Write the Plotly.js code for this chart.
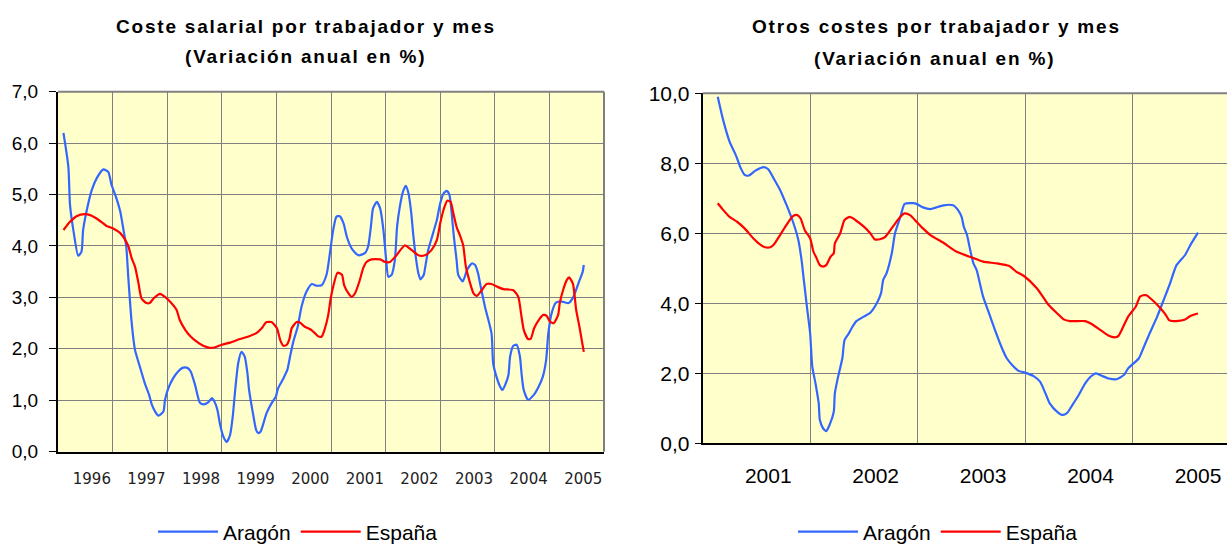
<!DOCTYPE html>
<html>
<head>
<meta charset="utf-8">
<script src="https://cdn.plot.ly/plotly-3.0.1.min.js"></script>
<style>
html,body{margin:0;padding:0;background:#fff;overflow:hidden;}
#chart{width:1227px;height:545px;}
.annotation-text{letter-spacing:1.8px;}
</style>
</head>
<body>
<div id="chart"></div>
<script>
// ---------- Chart 1: Coste salarial por trabajador y mes ----------
const salYearsLabels = ['1996','1997','1998','1999','2000','2001','2002','2003','2004','2005'];
const salAragonX = [1996.10,1996.19,1996.22,1996.29,1996.37,1996.43,1996.46,1996.54,1996.62,1996.71,1996.83,1996.92,1996.98,1997.06,1997.14,1997.20,1997.25,1997.29,1997.35,1997.41,1997.50,1997.59,1997.67,1997.72,1997.78,1997.84,1997.93,1997.96,1998.02,1998.11,1998.20,1998.28,1998.37,1998.43,1998.51,1998.60,1998.67,1998.75,1998.82,1998.88,1998.92,1998.97,1999.03,1999.09,1999.15,1999.20,1999.24,1999.30,1999.36,1999.42,1999.47,1999.50,1999.57,1999.63,1999.67,1999.71,1999.82,1999.91,1999.99,2000.03,2000.13,2000.20,2000.25,2000.31,2000.39,2000.46,2000.55,2000.65,2000.73,2000.83,2000.92,2000.98,2001.04,2001.10,2001.16,2001.23,2001.29,2001.38,2001.50,2001.62,2001.68,2001.73,2001.77,2001.84,2001.90,2001.96,2002.01,2002.05,2002.11,2002.17,2002.21,2002.26,2002.32,2002.37,2002.42,2002.47,2002.51,2002.56,2002.60,2002.64,2002.70,2002.72,2002.78,2002.87,2002.94,2003.00,2003.06,2003.12,2003.17,2003.21,2003.25,2003.30,2003.33,2003.41,2003.45,2003.49,2003.58,2003.64,2003.70,2003.73,2003.82,2003.94,2003.97,2004.03,2004.10,2004.14,2004.19,2004.25,2004.28,2004.34,2004.40,2004.46,2004.49,2004.53,2004.61,2004.71,2004.80,2004.88,2004.94,2004.98,2005.04,2005.12,2005.23,2005.35,2005.44,2005.53,2005.61,2005.63];
const salAragonY = [6.20,5.54,4.80,4.25,3.81,3.89,4.31,4.76,5.09,5.32,5.49,5.44,5.19,4.96,4.67,4.31,3.99,3.35,2.50,1.98,1.65,1.33,1.10,0.91,0.78,0.70,0.78,1.01,1.23,1.43,1.56,1.63,1.63,1.56,1.30,0.95,0.92,0.96,1.04,0.94,0.81,0.52,0.29,0.19,0.32,0.68,1.14,1.72,1.94,1.85,1.52,1.20,0.75,0.42,0.36,0.39,0.75,0.94,1.07,1.23,1.43,1.59,1.85,2.14,2.43,2.82,3.11,3.26,3.23,3.24,3.45,3.86,4.31,4.57,4.58,4.44,4.18,3.95,3.82,3.86,3.99,4.37,4.73,4.86,4.73,4.31,3.73,3.40,3.44,3.73,4.37,4.76,5.06,5.17,5.02,4.64,4.18,3.73,3.47,3.35,3.44,3.55,3.92,4.25,4.51,4.83,5.02,5.07,4.99,4.64,4.18,3.73,3.44,3.31,3.40,3.53,3.66,3.63,3.44,3.27,2.82,2.30,1.72,1.46,1.26,1.20,1.30,1.49,1.85,2.06,2.08,1.85,1.52,1.20,1.01,1.10,1.26,1.46,1.78,2.30,2.69,2.90,2.92,2.89,3.01,3.27,3.50,3.63];
const salEspanaX = [1996.10,1996.22,1996.34,1996.49,1996.59,1996.74,1996.89,1997.01,1997.14,1997.23,1997.29,1997.35,1997.41,1997.47,1997.53,1997.62,1997.68,1997.75,1997.87,1997.96,1998.05,1998.17,1998.23,1998.33,1998.42,1998.54,1998.66,1998.78,1998.88,1999.00,1999.15,1999.33,1999.49,1999.64,1999.73,1999.82,1999.91,2000.01,2000.07,2000.13,2000.19,2000.24,2000.28,2000.37,2000.43,2000.52,2000.62,2000.71,2000.77,2000.83,2000.89,2000.95,2000.99,2001.04,2001.12,2001.20,2001.24,2001.32,2001.38,2001.44,2001.52,2001.59,2001.65,2001.74,2001.90,2001.99,2002.08,2002.20,2002.35,2002.48,2002.60,2002.72,2002.84,2002.94,2003.00,2003.06,2003.13,2003.19,2003.24,2003.30,2003.36,2003.42,2003.47,2003.55,2003.61,2003.67,2003.76,2003.85,2003.94,2004.06,2004.16,2004.34,2004.43,2004.49,2004.53,2004.61,2004.66,2004.72,2004.81,2004.89,2004.95,2005.01,2005.08,2005.16,2005.19,2005.25,2005.32,2005.36,2005.43,2005.47,2005.49,2005.55,2005.63];
const salEspanaY = [4.31,4.47,4.58,4.62,4.60,4.51,4.39,4.34,4.25,4.12,3.99,3.76,3.60,3.30,2.98,2.89,2.89,2.98,3.07,3.01,2.92,2.76,2.56,2.37,2.25,2.14,2.06,2.02,2.03,2.08,2.12,2.19,2.24,2.31,2.40,2.52,2.52,2.40,2.17,2.06,2.08,2.20,2.40,2.52,2.51,2.43,2.38,2.30,2.24,2.24,2.40,2.66,2.95,3.21,3.48,3.44,3.24,3.08,3.01,3.08,3.31,3.57,3.69,3.74,3.74,3.69,3.69,3.82,4.01,3.92,3.82,3.82,3.92,4.12,4.44,4.70,4.88,4.86,4.64,4.37,4.21,4.02,3.60,3.27,3.08,3.03,3.14,3.26,3.26,3.20,3.16,3.14,3.01,2.62,2.37,2.19,2.20,2.40,2.57,2.66,2.64,2.53,2.50,2.66,2.89,3.14,3.34,3.39,3.27,2.95,2.76,2.43,1.94];

// ---------- Chart 2: Otros costes por trabajador y mes ----------
const otrYearsLabels = ['2001','2002','2003','2004','2005'];
const otrAragonX = [2001.14,2001.19,2001.25,2001.30,2001.32,2001.35,2001.39,2001.43,2001.49,2001.57,2001.61,2001.66,2001.72,2001.78,2001.84,2001.89,2001.92,2001.94,2001.97,2002.00,2002.02,2002.05,2002.08,2002.09,2002.12,2002.15,2002.18,2002.22,2002.23,2002.26,2002.30,2002.32,2002.36,2002.39,2002.43,2002.50,2002.56,2002.62,2002.66,2002.68,2002.71,2002.76,2002.79,2002.84,2002.88,2002.96,2002.99,2003.05,2003.12,2003.24,2003.33,2003.38,2003.41,2003.43,2003.46,2003.49,2003.52,2003.55,2003.58,2003.61,2003.66,2003.72,2003.78,2003.83,2003.88,2003.94,2004.00,2004.08,2004.14,2004.19,2004.23,2004.30,2004.35,2004.39,2004.44,2004.50,2004.56,2004.61,2004.66,2004.72,2004.78,2004.85,2004.92,2004.96,2005.06,2005.10,2005.16,2005.23,2005.29,2005.35,2005.41,2005.49,2005.54,2005.61];
const otrAragonY = [9.90,9.24,8.62,8.29,8.14,7.89,7.67,7.65,7.79,7.89,7.83,7.57,7.24,6.81,6.33,5.81,5.24,4.70,3.90,3.14,2.19,1.71,1.14,0.67,0.43,0.35,0.52,0.90,1.43,1.90,2.43,2.95,3.14,3.31,3.49,3.62,3.73,4.00,4.29,4.67,4.85,5.43,6.00,6.47,6.84,6.86,6.84,6.74,6.69,6.80,6.80,6.65,6.47,6.19,5.95,5.52,5.14,4.95,4.57,4.19,3.76,3.24,2.76,2.43,2.24,2.07,2.02,1.92,1.76,1.43,1.14,0.90,0.81,0.86,1.09,1.38,1.71,1.90,2.00,1.92,1.85,1.83,1.95,2.14,2.43,2.71,3.14,3.62,4.09,4.57,5.09,5.38,5.67,6.02];
const otrEspanaX = [2001.14,2001.19,2001.25,2001.32,2001.39,2001.47,2001.53,2001.58,2001.63,2001.66,2001.72,2001.78,2001.84,2001.88,2001.91,2001.95,2002.00,2002.03,2002.06,2002.09,2002.12,2002.15,2002.19,2002.22,2002.23,2002.28,2002.32,2002.37,2002.42,2002.50,2002.56,2002.60,2002.65,2002.70,2002.77,2002.84,2002.88,2002.93,2002.99,2003.05,2003.12,2003.24,2003.36,2003.52,2003.61,2003.74,2003.85,2003.92,2003.99,2004.11,2004.22,2004.30,2004.36,2004.42,2004.56,2004.62,2004.70,2004.78,2004.84,2004.87,2004.90,2004.96,2005.03,2005.07,2005.10,2005.13,2005.20,2005.26,2005.31,2005.34,2005.38,2005.43,2005.49,2005.54,2005.61];
const otrEspanaY = [6.86,6.67,6.47,6.33,6.14,5.86,5.69,5.60,5.60,5.67,5.95,6.24,6.49,6.52,6.43,6.09,5.86,5.48,5.29,5.09,5.05,5.09,5.33,5.43,5.71,6.00,6.38,6.47,6.38,6.19,6.00,5.83,5.83,5.90,6.19,6.47,6.57,6.52,6.33,6.14,5.95,5.73,5.48,5.29,5.19,5.14,5.07,4.90,4.78,4.43,3.95,3.71,3.54,3.49,3.49,3.41,3.24,3.07,3.03,3.07,3.24,3.62,3.90,4.19,4.23,4.23,4.05,3.86,3.67,3.52,3.49,3.50,3.54,3.64,3.71];

const seriesNames = ['Aragón','España'];
const colAragon = '#3366FF';
const colEspana = '#FF0000';

const salLabelVals = salYearsLabels.map(s => +s + 0.62);
const otrLabelVals = otrYearsLabels.map(s => +s + 0.61);
const salGrid = salYearsLabels.slice(1).map(Number);
const otrGrid = otrYearsLabels.slice(1).map(Number);

const lineOpts = c => ({color:c, width:2.2, shape:'spline', smoothing:0.6});

const traces = [
  {x:salAragonX, y:salAragonY, name:seriesNames[0], mode:'lines', line:lineOpts(colAragon), xaxis:'x', yaxis:'y', legend:'legend'},
  {x:salEspanaX, y:salEspanaY, name:seriesNames[1], mode:'lines', line:lineOpts(colEspana), xaxis:'x', yaxis:'y', legend:'legend'},
  {x:otrAragonX, y:otrAragonY, name:seriesNames[0], mode:'lines', line:lineOpts(colAragon), xaxis:'x2', yaxis:'y2', legend:'legend2'},
  {x:otrEspanaX, y:otrEspanaY, name:seriesNames[1], mode:'lines', line:lineOpts(colEspana), xaxis:'x2', yaxis:'y2', legend:'legend2'}
];

const W = 1227, H = 545;
const px = v => v / W;
const py = v => (H - v) / H;

const arial = 'Arial, "Liberation Sans", sans-serif';
const titleFont = {family:arial, size:19, color:'#000', weight:'bold'};

const layout = {
  width:W, height:H, autosize:false,
  margin:{l:0, r:0, t:0, b:0, autoexpand:false},
  paper_bgcolor:'#ffffff',
  plot_bgcolor:'#FFFFCC',
  separators:',.',
  showlegend:true,
  xaxis:{
    domain:[px(58), px(604)], range:[1996, 2006], anchor:'y',
    tickmode:'array', tickvals:salLabelVals, ticktext:salYearsLabels,
    ticks:'', showgrid:false, zeroline:false,
    showline:true, linecolor:'#000', linewidth:2,
    tickfont:{family:'"DejaVu Sans", sans-serif', size:15, color:'#222'},
    ticklabelstandoff:12,
    minor:{tickmode:'array', tickvals:salGrid, showgrid:true, gridcolor:'#808080', gridwidth:1, ticks:''},
    fixedrange:true
  },
  yaxis:{
    domain:[py(451.7), py(91.7)], range:[0, 7], anchor:'x',
    tickmode:'linear', tick0:0, dtick:1, tickformat:'.1f',
    ticks:'outside', ticklen:7, tickcolor:'#000', tickwidth:1,
    showgrid:true, gridcolor:'#808080', gridwidth:1, zeroline:false,
    showline:true, linecolor:'#000', linewidth:2,
    tickfont:{family:arial, size:19, color:'#000'},
    ticklabelstandoff:7,
    fixedrange:true
  },
  xaxis2:{
    domain:[px(702.7), 1], range:[2001, 2005.88], anchor:'y2',
    tickmode:'array', tickvals:otrLabelVals, ticktext:otrYearsLabels,
    ticks:'', showgrid:false, zeroline:false,
    showline:true, linecolor:'#000', linewidth:2,
    tickfont:{family:arial, size:21, color:'#000'},
    ticklabelstandoff:12,
    minor:{tickmode:'array', tickvals:otrGrid, showgrid:true, gridcolor:'#808080', gridwidth:1, ticks:''},
    fixedrange:true
  },
  yaxis2:{
    domain:[py(443.3), py(93.3)], range:[0, 10], anchor:'x2',
    tickmode:'linear', tick0:0, dtick:2, tickformat:'.1f',
    ticks:'outside', ticklen:6, tickcolor:'#000', tickwidth:1,
    showgrid:true, gridcolor:'#808080', gridwidth:1, zeroline:false,
    showline:true, linecolor:'#000', linewidth:2,
    tickfont:{family:arial, size:21, color:'#000'},
    ticklabelstandoff:1,
    fixedrange:true
  },
  legend:{
    orientation:'h', x:px(298), xanchor:'center', y:py(532), yanchor:'middle',
    font:{family:arial, size:21, color:'#000'}, bgcolor:'rgba(0,0,0,0)',
    itemwidth:60, tracegroupgap:0
  },
  legend2:{
    orientation:'h', x:px(938), xanchor:'center', y:py(532), yanchor:'middle',
    font:{family:arial, size:21, color:'#000'}, bgcolor:'rgba(0,0,0,0)',
    itemwidth:60, tracegroupgap:0
  },
  shapes:[
    {type:'line', xref:'x domain', yref:'y domain', x0:0, x1:1, y0:1, y1:1, line:{color:'#808080', width:2}, layer:'above'},
    {type:'line', xref:'x domain', yref:'y domain', x0:1, x1:1, y0:0, y1:1, line:{color:'#808080', width:2}, layer:'above'},
    {type:'line', xref:'x2 domain', yref:'y2 domain', x0:0, x1:1, y0:1, y1:1, line:{color:'#808080', width:2}, layer:'above'}
  ],
  annotations:[
    {text:'Coste salarial por trabajador y mes', xref:'paper', yref:'paper', x:px(306), y:py(26), xanchor:'center', yanchor:'middle', showarrow:false, font:titleFont},
    {text:'(Variación anual en %)', xref:'paper', yref:'paper', x:px(305), y:py(57), xanchor:'center', yanchor:'middle', showarrow:false, font:titleFont},
    {text:'Otros costes por trabajador y mes', xref:'paper', yref:'paper', x:px(936), y:py(27), xanchor:'center', yanchor:'middle', showarrow:false, font:titleFont},
    {text:'(Variación anual en %)', xref:'paper', yref:'paper', x:px(934), y:py(58), xanchor:'center', yanchor:'middle', showarrow:false, font:titleFont}
  ]
};

Plotly.newPlot('chart', traces, layout, {displayModeBar:false, staticPlot:true});
</script>
</body>
</html>
